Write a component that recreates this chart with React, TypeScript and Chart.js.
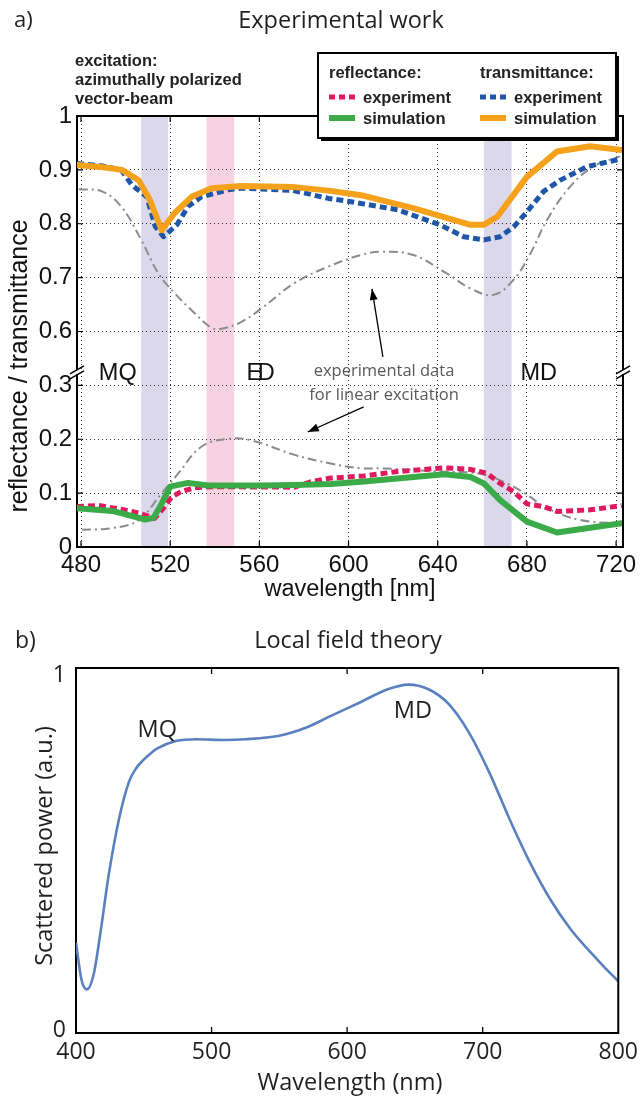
import React, { useEffect, useRef } from "react";
import { Chart, registerables } from "chart.js";

Chart.register(...registerables);

const SANS = "'Liberation Sans', Arial, Helvetica, sans-serif";
const HUMANIST = "'Open Sans', 'Noto Sans', sans-serif";
const INK = "#111";

// ---------- Panel a): measured / simulated spectra (wavelength in nm) ----------
const T_SIM_WL = [478.2, 490, 498.3, 505.8, 510.9, 516.2, 522, 529.6, 538.5, 552, 575.6, 592, 605.6, 614.5, 629, 654.7, 660.6, 666.7, 680, 693.5, 708.4, 722.5];
const T_SIM = [0.909, 0.905, 0.9, 0.881, 0.844, 0.788, 0.82, 0.85, 0.866, 0.87, 0.868, 0.861, 0.853, 0.844, 0.829, 0.798, 0.798, 0.813, 0.887, 0.934, 0.944, 0.937];

const T_EXP_WL = [478.2, 490, 498, 502.8, 509.5, 513.3, 517, 523, 528, 534, 546, 552, 575, 591, 601, 622, 641, 651.7, 660.7, 668, 674, 680, 687.5, 695, 707, 721.8];
const T_EXP = [0.912, 0.907, 0.9, 0.872, 0.85, 0.795, 0.776, 0.798, 0.832, 0.85, 0.863, 0.866, 0.862, 0.847, 0.841, 0.826, 0.798, 0.776, 0.77, 0.776, 0.794, 0.822, 0.86, 0.881, 0.906, 0.92];

const T_LIN_WL = [479, 489.4, 498, 507, 514.7, 522, 531, 538.5, 543, 552, 561, 575.8, 590.7, 605.6, 614.5, 629, 644, 654.7, 665, 674, 681.6, 689, 699.4, 709.8, 721.8];
const T_LIN = [0.864, 0.86, 0.832, 0.77, 0.708, 0.671, 0.634, 0.607, 0.605, 0.618, 0.643, 0.69, 0.72, 0.742, 0.748, 0.742, 0.708, 0.68, 0.668, 0.696, 0.745, 0.807, 0.869, 0.906, 0.925];

const R_SIM_WL = [478.2, 494, 501.3, 508.7, 512.5, 516.2, 520, 528, 537, 561, 575.8, 592, 605.6, 643, 654.7, 660.7, 668, 680, 693.5, 722.5];
const R_SIM = [0.072, 0.067, 0.059, 0.051, 0.054, 0.081, 0.112, 0.119, 0.114, 0.114, 0.115, 0.117, 0.121, 0.135, 0.13, 0.118, 0.087, 0.047, 0.027, 0.044];

const R_EXP_WL = [478.2, 487.9, 498, 505.8, 513, 517, 520.7, 525, 531, 538.5, 575.8, 583, 592, 607, 622, 643, 654.7, 662, 668, 674, 680, 687.5, 693.5, 708.4, 722.5];
const R_EXP = [0.075, 0.077, 0.07, 0.063, 0.053, 0.072, 0.093, 0.103, 0.11, 0.112, 0.111, 0.121, 0.128, 0.132, 0.14, 0.147, 0.144, 0.137, 0.118, 0.103, 0.08, 0.075, 0.066, 0.069, 0.077];

const R_LIN_WL = [480.4, 494, 505.8, 516.2, 523.7, 534, 546, 556.4, 575.8, 592, 605.6, 614.5, 641, 659, 671, 680, 689, 704, 720];
const R_LIN = [0.032, 0.035, 0.05, 0.1, 0.137, 0.186, 0.201, 0.198, 0.171, 0.155, 0.146, 0.146, 0.14, 0.136, 0.118, 0.097, 0.072, 0.05, 0.044];

// resonance bands (MQ, ED, MD)
const BAND_FROM = [507, 536.3, 660.7];
const BAND_TO = [519, 548.7, 673.1];
const BAND_COLOR = ["#dad8ea", "#f7d3e1", "#dad8ea"];

const A_X_MIN = 478.2;
const A_X_MAX = 723.1;
const A_X_TICKS = [480, 520, 560, 600, 640, 680, 720];
const A_Y_TICKS = [0, 0.1, 0.2, 0.3, 0.6, 0.7, 0.8, 0.9, 1];
const A_Y_LABELS = ["0", "0.1", "0.2", "0.3", "0.6", "0.7", "0.8", "0.9", "1"];

// broken y axis: values above the break are drawn BREAK_DROP lower
const BREAK_AT = 0.45;
const BREAK_DROP = 0.2;
const BREAK_MARK = 0.325;
const toAxis = (v: number) => (v > BREAK_AT ? v - BREAK_DROP : v);

// ---------- Panel b): local field theory ----------
const B_WL = [400, 404, 408, 413, 418, 424, 431.6, 439, 444, 449.6, 455, 460, 473.7, 488.7, 509.8, 524.8, 548.9, 570, 588, 609, 630, 645, 660, 675, 690, 705, 720, 735, 750, 765, 780, 789, 800];
const B_POWER = [0.247, 0.143, 0.115, 0.157, 0.274, 0.435, 0.594, 0.7, 0.737, 0.762, 0.781, 0.795, 0.816, 0.821, 0.819, 0.821, 0.83, 0.854, 0.887, 0.924, 0.962, 0.975, 0.962, 0.92, 0.839, 0.726, 0.594, 0.472, 0.368, 0.284, 0.218, 0.181, 0.138];
const B_X_TICKS = [400, 500, 600, 700, 800];
const B_Y_TICKS = [0, 1];

const pts = (xs: number[], ys: number[]) => xs.map((x, i) => ({ x, y: toAxis(ys[i]) }));

function lineSet(label: string, xs: number[], ys: number[], color: string, width: number, dash: number[], tension: number) {
  return {
    label,
    data: pts(xs, ys),
    borderColor: color,
    backgroundColor: color,
    borderWidth: width,
    borderDash: dash,
    borderCapStyle: dash.length ? "butt" : "round",
    borderJoinStyle: "round",
    tension,
    pointRadius: 0,
    fill: false,
  };
}

function arrow(ctx: CanvasRenderingContext2D, x1: number, y1: number, x2: number, y2: number) {
  ctx.beginPath();
  ctx.moveTo(x1, y1);
  ctx.lineTo(x2, y2);
  ctx.stroke();
  const a = Math.atan2(y2 - y1, x2 - x1);
  const L = 11, W = 4;
  ctx.beginPath();
  ctx.moveTo(x2, y2);
  ctx.lineTo(x2 - L * Math.cos(a) + W * Math.sin(a), y2 - L * Math.sin(a) - W * Math.cos(a));
  ctx.lineTo(x2 - L * Math.cos(a) - W * Math.sin(a), y2 - L * Math.sin(a) + W * Math.cos(a));
  ctx.closePath();
  ctx.fill();
}

function text(ctx: CanvasRenderingContext2D, s: string, x: number, y: number, font: string, color: string, align: CanvasTextAlign = "left") {
  ctx.font = font;
  ctx.fillStyle = color;
  ctx.textAlign = align;
  ctx.textBaseline = "alphabetic";
  ctx.fillText(s, x, y);
}

const panelAOverlay = {
  id: "panelAOverlay",
  beforeDraw(chart: any) {
    const { ctx, chartArea: a, scales } = chart;
    ctx.save();
    BAND_FROM.forEach((from, i) => {
      const x0 = scales.x.getPixelForValue(from);
      const x1 = scales.x.getPixelForValue(BAND_TO[i]);
      ctx.fillStyle = BAND_COLOR[i];
      ctx.fillRect(x0, a.top, x1 - x0, a.bottom - a.top);
    });
    ctx.restore();
  },
  afterDraw(chart: any) {
    const { ctx, chartArea: a, scales } = chart;
    const X = (v: number) => scales.x.getPixelForValue(v);
    const Y = (v: number) => scales.y.getPixelForValue(v);
    ctx.save();

    // frame top / right
    ctx.strokeStyle = "#000";
    ctx.lineWidth = 2;
    ctx.beginPath();
    ctx.moveTo(a.left - 1, a.top);
    ctx.lineTo(a.right, a.top);
    ctx.lineTo(a.right, a.bottom + 1);
    ctx.stroke();

    // inward tick marks
    ctx.lineWidth = 1.2;
    ctx.beginPath();
    A_X_TICKS.forEach((v) => {
      const x = X(v);
      ctx.moveTo(x, a.top); ctx.lineTo(x, a.top + 6);
      ctx.moveTo(x, a.bottom); ctx.lineTo(x, a.bottom - 6);
    });
    A_Y_TICKS.forEach((v) => {
      const y = Y(toAxis(v));
      ctx.moveTo(a.left, y); ctx.lineTo(a.left + 6, y);
      ctx.moveTo(a.right, y); ctx.lineTo(a.right - 6, y);
    });
    ctx.stroke();

    // axis break marks
    const yb = Y(BREAK_MARK);
    ctx.lineWidth = 1.5;
    [a.left, a.right].forEach((xb) => {
      ctx.fillStyle = "#fff";
      ctx.fillRect(xb - 2, yb - 2, 4, 4);
      ctx.beginPath();
      ctx.moveTo(xb - 7, yb + 2); ctx.lineTo(xb + 7, yb - 6);
      ctx.moveTo(xb - 7, yb + 7); ctx.lineTo(xb + 7, yb - 1);
      ctx.stroke();
    });

    // resonance labels
    const big = `23.5px ${SANS}`;
    text(ctx, "MQ", X(488), Y(0.31), big, INK);
    text(ctx, "E", X(554.2), Y(0.31), big, INK);
    text(ctx, "D", X(559.3), Y(0.31), big, INK);
    text(ctx, "MD", X(677.1), Y(0.31), big, INK);

    // note on the linear-excitation curves
    const note = `16.5px ${HUMANIST}`;
    text(ctx, "experimental data", X(615.9), Y(0.3174), note, "#58595b", "center");
    text(ctx, "for linear excitation", X(615.9), Y(0.2729), note, "#58595b", "center");
    ctx.strokeStyle = "#000";
    ctx.fillStyle = "#000";
    ctx.lineWidth = 1.3;
    arrow(ctx, X(615.4), Y(0.353), X(610.5), Y(0.479));
    arrow(ctx, X(606.8), Y(0.26), X(581.7), Y(0.2135));

    // excitation note
    const bold = `bold 16.5px ${SANS}`;
    text(ctx, "excitation:", 75, 66, bold, "#222");
    text(ctx, "azimuthally polarized", 75, 85, bold, "#222");
    text(ctx, "vector-beam", 75, 104, bold, "#222");

    // legend box
    const L0 = 318, T0 = 53, R0 = 616, B0 = 138;
    ctx.fillStyle = "#fff";
    ctx.fillRect(L0, T0, R0 - L0, B0 - T0);
    ctx.strokeStyle = "#000";
    ctx.lineWidth = 2;
    ctx.strokeRect(L0, T0, R0 - L0, B0 - T0);
    ctx.lineWidth = 2;
    ctx.beginPath();
    ctx.moveTo(R0 + 2, T0 + 3); ctx.lineTo(R0 + 2, B0 + 2); ctx.lineTo(L0 + 3, B0 + 2);
    ctx.stroke();

    const ds = chart.data.datasets;
    const byLabel = (l: string) => ds.find((d: any) => d.label === l);
    const cols = [
      { x: 329, head: "reflectance:", rows: ["reflectance experiment", "reflectance simulation"] },
      { x: 480, head: "transmittance:", rows: ["transmittance experiment", "transmittance simulation"] },
    ];
    const rowY = [97, 118];
    cols.forEach((c) => {
      text(ctx, c.head, c.x, 78, bold, "#222");
      c.rows.forEach((lab, r) => {
        const d = byLabel(lab);
        ctx.strokeStyle = d.borderColor;
        ctx.lineWidth = d.borderDash.length ? 5 : 6;
        ctx.setLineDash(d.borderDash.length ? [6, 4] : []);
        ctx.lineCap = "butt";
        ctx.beginPath();
        ctx.moveTo(c.x, rowY[r]);
        ctx.lineTo(c.x + 26, rowY[r]);
        ctx.stroke();
        ctx.setLineDash([]);
        text(ctx, lab.split(" ")[1], c.x + 34, rowY[r] + 6, bold, "#222");
      });
    });

    // titles
    text(ctx, "a)", 14, 27, `22px ${HUMANIST}`, "#231f20");
    text(ctx, "Experimental work", 341, 28, `23.5px ${HUMANIST}`, "#231f20", "center");
    text(ctx, "wavelength [nm]", (a.left + a.right) / 2, 596, `23.5px ${SANS}`, INK, "center");
    ctx.save();
    ctx.translate(20, 366);
    ctx.rotate(-Math.PI / 2);
    ctx.font = `25px ${SANS}`;
    ctx.fillStyle = INK;
    ctx.textAlign = "center";
    ctx.textBaseline = "middle";
    ctx.fillText("reflectance / transmittance", 0, 0);
    ctx.restore();

    ctx.restore();
  },
};

const panelBOverlay = {
  id: "panelBOverlay",
  afterDraw(chart: any) {
    const { ctx, chartArea: a, scales } = chart;
    const X = (v: number) => scales.x.getPixelForValue(v);
    const Y = (v: number) => scales.y.getPixelForValue(v);
    ctx.save();
    ctx.strokeStyle = "#000";
    ctx.lineWidth = 2;
    ctx.beginPath();
    ctx.moveTo(a.left - 1, a.top);
    ctx.lineTo(a.right, a.top);
    ctx.lineTo(a.right, a.bottom + 1);
    ctx.stroke();

    ctx.lineWidth = 1.3;
    ctx.beginPath();
    B_X_TICKS.slice(1, -1).forEach((v) => {
      const x = X(v);
      ctx.moveTo(x, a.top); ctx.lineTo(x, a.top + 6);
      ctx.moveTo(x, a.bottom); ctx.lineTo(x, a.bottom - 6);
    });
    ctx.stroke();

    const f = `23.5px ${HUMANIST}`;
    text(ctx, "MQ", X(445.4), Y(0.828), f, "#231f20");
    text(ctx, "MD", X(634.4), Y(0.881), f, "#231f20");

    text(ctx, "b)", 15, 38, `23px ${HUMANIST}`, "#231f20");
    text(ctx, "Local field theory", 348, 38, f, "#231f20", "center");
    text(ctx, "Wavelength (nm)", 350, 480, f, "#231f20", "center");
    ctx.translate(45, 236);
    ctx.rotate(-Math.PI / 2);
    ctx.font = f;
    ctx.fillStyle = "#231f20";
    ctx.textAlign = "center";
    ctx.textBaseline = "middle";
    ctx.fillText("Scattered power (a.u.)", 0, 0);
    ctx.restore();
  },
};

function PanelA() {
  const ref = useRef<HTMLCanvasElement>(null);
  useEffect(() => {
    const dashed = [7, 4];
    const dashDot = [9, 4, 2, 4];
    const chart = new Chart(ref.current as HTMLCanvasElement, {
      type: "line",
      data: {
        datasets: [
          lineSet("transmittance simulation", T_SIM_WL, T_SIM, "#f6a11c", 6, [], 0),
          lineSet("reflectance simulation", R_SIM_WL, R_SIM, "#3bab4a", 6, [], 0),
          lineSet("transmittance experiment", T_EXP_WL, T_EXP, "#1f56a8", 5, dashed, 0),
          lineSet("reflectance experiment", R_EXP_WL, R_EXP, "#df1b5d", 5, dashed, 0),
          lineSet("transmittance linear", T_LIN_WL, T_LIN, "#8c8c8c", 2, dashDot, 0.4),
          lineSet("reflectance linear", R_LIN_WL, R_LIN, "#8c8c8c", 2, dashDot, 0.4),
        ] as any,
      },
      options: {
        animation: false,
        responsive: false,
        events: [],
        layout: { padding: { left: 0, top: 116, right: 21, bottom: 23 } },
        plugins: { legend: { display: false }, tooltip: { enabled: false }, title: { display: false } },
        scales: {
          x: {
            type: "linear",
            min: A_X_MIN,
            max: A_X_MAX,
            afterBuildTicks: (s: any) => { s.ticks = A_X_TICKS.map((value) => ({ value })); },
            afterFit: (s: any) => { s.height = 40; },
            grid: { color: "rgba(0,0,0,0.8)", lineWidth: 1, drawTicks: false },
            border: { display: true, color: "#000", width: 2, dash: [1, 3] },
            ticks: { padding: 4, color: INK, font: { family: SANS, size: 24 }, autoSkip: false, maxRotation: 0 },
          },
          y: {
            type: "linear",
            min: 0,
            max: toAxis(1),
            afterBuildTicks: (s: any) => { s.ticks = A_Y_TICKS.map((v) => ({ value: toAxis(v) })); },
            afterFit: (s: any) => { s.width = 77; },
            grid: { color: "rgba(0,0,0,0.8)", lineWidth: 1, drawTicks: false },
            border: { display: true, color: "#000", width: 2, dash: [1, 3] },
            ticks: {
              padding: 5,
              color: INK,
              font: { family: SANS, size: 24 },
              autoSkip: false,
              callback: (_v: any, i: number) => A_Y_LABELS[i],
            },
          },
        },
      },
      plugins: [panelAOverlay],
    } as any);
    return () => chart.destroy();
  }, []);
  return <canvas ref={ref} width={644} height={610} style={{ position: "absolute", left: 0, top: 0, width: 644, height: 610 }} />;
}

function PanelB() {
  const ref = useRef<HTMLCanvasElement>(null);
  useEffect(() => {
    const chart = new Chart(ref.current as HTMLCanvasElement, {
      type: "line",
      data: {
        datasets: [
          {
            label: "scattered power",
            data: B_WL.map((x, i) => ({ x, y: B_POWER[i] })),
            borderColor: "#5a80bf",
            borderWidth: 2.6,
            pointRadius: 0,
            cubicInterpolationMode: "monotone",
            fill: false,
          },
        ],
      },
      options: {
        animation: false,
        responsive: false,
        events: [],
        layout: { padding: { left: 0, top: 58, right: 22, bottom: 28 } },
        plugins: { legend: { display: false }, tooltip: { enabled: false } },
        scales: {
          x: {
            type: "linear",
            min: 400,
            max: 800,
            afterBuildTicks: (s: any) => { s.ticks = B_X_TICKS.map((value) => ({ value })); },
            afterFit: (s: any) => { s.height = 40; },
            grid: { display: false, drawTicks: false },
            border: { display: true, color: "#000", width: 2 },
            ticks: { padding: 6, color: "#231f20", font: { family: HUMANIST, size: 23 }, autoSkip: false, maxRotation: 0 },
          },
          y: {
            type: "linear",
            min: -0.008,
            max: 1.022,
            afterBuildTicks: (s: any) => { s.ticks = B_Y_TICKS.map((value) => ({ value })); },
            afterFit: (s: any) => { s.width = 76; },
            grid: { display: false, drawTicks: false },
            border: { display: true, color: "#000", width: 2 },
            ticks: { padding: 10, color: "#231f20", font: { family: HUMANIST, size: 23 }, autoSkip: false },
          },
        },
      },
      plugins: [panelBOverlay],
    } as any);
    return () => chart.destroy();
  }, []);
  return <canvas ref={ref} width={644} height={491} style={{ position: "absolute", left: 0, top: 610, width: 644, height: 491 }} />;
}

export default function App() {
  useEffect(() => {
    document.body.style.margin = "0";
    document.body.style.background = "#fff";
  }, []);
  return (
    <div style={{ position: "relative", width: 644, height: 1101, background: "#fff", overflow: "hidden" }}>
      <PanelA />
      <PanelB />
    </div>
  );
}
